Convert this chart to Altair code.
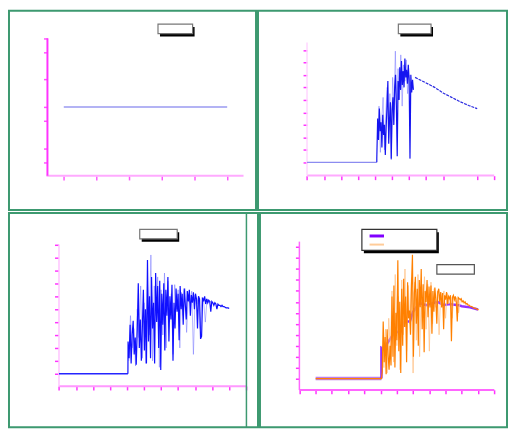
import altair as alt
import pandas as pd

SX = 500 / 516
SY = 417 / 433
GREEN = "#3d9970"

# ---------------- data ----------------
# panel 1: single flat series
p1_x = [0, 5]
p1_y = [5, 5]

# panel 2
p2_flat_x = [0, 4.1]
p2_flat_y = [0, 0]
p2_dark_y = [0.3, 3.5, 1.8, 4.3, 2.5, 3.2, 1.2, 3.8, 2.2, 3.0, 0.6, 2.8, 4.5, 6.5, 1.5,
             3.5, 4.8, 0.3, 4.2, 5.2, 3.0, 6.0, 7.0, 4.5, 0.5, 6.5, 5.0, 7.6, 5.8, 8.1,
             6.2, 7.3, 6.0, 8.3, 6.8, 7.4, 6.3, 7.8, 6.6, 0.3, 7.0, 5.6, 6.6, 5.8]
p2_light_y = [2.0, 4.5, 0.8, 3.3, 5.2, 1.0, 4.0, 6.0, 2.4, 5.5, 0.2, 6.8, 4.2, 8.9, 3.8,
              7.5, 5.0, 8.6, 4.5, 7.8, 6.5, 8.2, 5.5, 7.0, 6.2, 6.0]
p2_decay_x = [6.35, 7.0, 7.5, 8.0, 8.5, 9.0, 9.5, 10.0]
p2_decay_y = [6.8, 6.35, 6.0, 5.55, 5.2, 4.85, 4.55, 4.3]

# panel 3
p3_flat_x = [0, 4.05]
p3_flat_y = [0, 0]
p3_dark_y = [2.5, 1.2, 3.8, 0.8, 3.0, 4.1, 1.5, 2.8, 0.7, 3.4,
             7.0, 2.0, 4.2, 1.0, 3.6, 6.5, 1.8, 5.0, 0.8, 8.8,
             2.5, 6.0, 1.2, 7.5, 3.5, 5.5, 0.8, 7.8, 4.0, 6.8,
             2.0, 7.2, 0.3, 6.2, 3.8, 7.0, 1.8, 6.5, 4.5, 7.5,
             2.5, 6.0, 4.2, 6.9, 1.0, 5.5, 3.5, 6.6, 4.8, 6.2,
             2.6, 6.8, 5.0, 6.2, 3.8, 6.6, 5.4, 4.2, 6.4, 5.6,
             6.5, 4.5, 6.1, 5.5, 6.3, 5.0, 6.2, 5.8, 3.5, 6.0,
             5.8, 2.7, 2.9, 5.9, 5.6, 6.0, 5.4, 5.8, 5.5, 5.7,
             5.6, 4.8, 5.6, 5.5, 5.3, 5.5, 5.4, 5.0, 5.4, 5.3,
             5.3, 5.2, 5.3, 5.2, 5.2, 5.15, 5.1, 5.1, 5.1, 5.05]
p3_light_y = [1.0, 4.5, 2.0, 3.5, 0.6, 5.0, 2.8, 6.8, 1.2, 5.5,
              0.8, 7.0, 3.0, 9.2, 1.0, 6.8, 4.5, 7.5, 0.5, 6.5,
              3.0, 7.8, 2.0, 7.2, 4.0, 6.2, 1.5, 6.9, 5.0, 6.5,
              2.0, 6.3, 4.5, 6.6, 3.2, 6.0, 5.5, 6.4, 1.5, 6.1,
              5.4, 6.0, 3.5, 5.9, 5.6, 4.0, 5.8, 5.5, 5.6, 5.4]

# panel 4
p4_purple_x = [1, 5.05, 5.05, 5.3, 5.4, 5.9, 6.2, 6.5, 6.8, 7.0, 7.4, 7.8, 8.5, 8.9, 9.2, 9.8, 10.0, 10.5, 11.0]
p4_purple_y = [0, 0, 2.8, 2.6, 3.2, 4.3, 4.2, 5.2, 5.2, 6.1, 6.9, 6.7, 7.0, 6.7, 6.8, 6.7, 6.6, 6.5, 6.3]
p4_orange_y = [0.6, 5.2, 1.5, 3.8, 0.4, 4.5, 2.2, 0.8, 3.0, 1.2,
               7.5, 2.0, 8.5, 1.0, 6.0, 3.5, 10.8, 2.5, 7.0, 0.5,
               8.2, 3.0, 9.1, 4.7, 7.5, 1.5, 8.8, 5.5, 6.2, 4.0,
               8.5, 11.3, 2.0, 7.8, 9.3, 5.0, 8.2, 3.0, 9.0, 6.5,
               10.0, 4.5, 8.6, 2.4, 8.0, 7.0, 9.0, 5.6, 8.4, 6.5,
               8.5, 4.1, 8.0, 6.1, 8.3, 7.2, 5.0, 7.9, 8.2, 7.0,
               7.9, 6.5, 7.8, 4.5, 7.6, 7.2, 7.9, 6.8, 7.5, 7.3,
               7.6, 3.4, 7.4, 7.6, 7.2, 7.5, 7.0, 5.2, 7.4, 7.3,
               7.2, 7.3, 7.0, 7.1, 6.9, 7.0, 6.8, 6.85, 6.7, 6.7,
               6.6, 6.6, 6.55, 6.5, 6.45, 6.4, 6.4, 6.35, 6.3, 6.3]
p4_lorange_y = [3.0, 1.0, 4.5, 0.5, 5.5, 2.5, 8.0, 1.5, 9.5, 3.0,
                7.5, 0.8, 9.0, 4.0, 10.0, 2.5, 8.5, 5.0, 9.2, 0.5,
                8.8, 3.5, 9.5, 2.0, 8.0, 6.0, 9.3, 4.5, 8.6, 2.5,
                8.8, 5.0, 8.2, 6.5, 8.0, 4.0, 7.8, 7.2, 8.0, 5.5,
                7.8, 6.8, 7.6, 5.5, 7.5, 7.0, 7.4, 6.0, 7.2, 7.0]


def grid(start, step, n):
    return [round(start + step * i, 4) for i in range(n)]


def df(xs, ys):
    return pd.DataFrame({"x": xs, "y": ys})


def ordered(xs, ys):
    d_ = df(xs, ys)
    d_["order"] = range(len(d_))
    return d_


ONE = pd.DataFrame({"k": [0]})


def panel(box, xmap, ymap, xticks, yticks, xaxis_px, yaxis_px, tick_col,
          axis_lines, series, boxes, extras=()):
    L, T, R, B = box
    a, b = xmap
    c, d = ymap
    W = round((R - L) * SX)
    H = round((B - T) * SY)
    xs = alt.Scale(domain=[(L - a) / b, (R - a) / b], nice=False, zero=False)
    ys = alt.Scale(domain=[(c - B) / d, (c - T) / d], nice=False, zero=False)
    common = dict(labels=False, title=None, domain=False, grid=False, ticks=True,
                  tickColor=tick_col, tickSize=4, tickWidth=1.5)
    xa = alt.Axis(values=xticks, offset=-(H - (xaxis_px - T) * SY), **common)
    ya = alt.Axis(values=yticks, offset=-((yaxis_px - L) * SX), **common)
    X = alt.X("x:Q", scale=xs, axis=xa)
    Y = alt.Y("y:Q", scale=ys, axis=ya)
    layers = []
    (hx0, hx1, hy, hcol, hw), (vx, vy0, vy1, vcol, vw) = axis_lines
    layers.append(alt.Chart(pd.DataFrame({"x": [hx0], "x2": [hx1], "y": [hy]}))
                  .mark_rule(color=hcol, strokeWidth=hw)
                  .encode(x=X, x2="x2:Q", y=Y))
    layers.append(alt.Chart(pd.DataFrame({"x": [vx], "y": [vy0], "y2": [vy1]}))
                  .mark_rule(color=vcol, strokeWidth=vw)
                  .encode(x=X, y=Y, y2="y2:Q"))
    for data, style in series:
        if "order" in data.columns:
            layers.append(alt.Chart(data).mark_line(**style).encode(x=X, y=Y, order="order:Q"))
        else:
            layers.append(alt.Chart(data).mark_line(**style).encode(x=X, y=Y))
    for (x1, y1, x2, y2, shadow, stroke) in boxes:
        lx1, lx2 = (x1 - L) * SX, (x2 - L) * SX
        ly1, ly2 = (y1 - T) * SY, (y2 - T) * SY
        if shadow:
            layers.append(alt.Chart(ONE).mark_rect(fill="black").encode(
                x=alt.value(lx1 + 2), x2=alt.value(lx2 + 2),
                y=alt.value(ly1 + 3), y2=alt.value(ly2 + 3)))
        layers.append(alt.Chart(ONE).mark_rect(fill="white", stroke=stroke, strokeWidth=1.2).encode(
            x=alt.value(lx1), x2=alt.value(lx2), y=alt.value(ly1), y2=alt.value(ly2)))
    for (x1, y1, x2, y2, col, w) in extras:
        layers.append(alt.Chart(ONE).mark_rule(color=col, strokeWidth=w).encode(
            x=alt.value((x1 - L) * SX), x2=alt.value((x2 - L) * SX),
            y=alt.value((y1 - T) * SY), y2=alt.value((y2 - T) * SY)))
    return alt.layer(*layers).properties(width=W, height=H)


# ---------------- panel 1 ----------------
p1 = panel(
    box=(0, 0, 257, 209), xmap=(57, 34), ymap=(173, 14.4),
    xticks=[0, 1, 2, 3, 4, 5], yticks=[1, 2, 4, 5, 7, 9, 10],
    xaxis_px=173, yaxis_px=40, tick_col="#ff55ff",
    axis_lines=((-0.53, 5.5, 0, "#ffaaff", 2), (-0.5, 0, 10, "#ff33ff", 2)),
    series=[(df(p1_x, p1_y), dict(color="#9a9af0", strokeWidth=1.5))],
    boxes=[(155, 14, 191, 24, True, "#777777")],
)

# ---------------- panel 2 ----------------
p2 = panel(
    box=(257, 0, 516, 209), xmap=(308, 17.7), ymap=(159, 13.1),
    xticks=[0, 1, 2, 3, 4, 5, 6, 7, 8, 10, 11], yticks=list(range(0, 10)),
    xaxis_px=172.7, yaxis_px=308, tick_col="#ff33ff",
    axis_lines=((0, 11, -1.05, "#ffaaff", 2), (0, -1.05, 9.6, "#ffd6ff", 1.5)),
    series=[
        (df(p2_flat_x, p2_flat_y), dict(color="#8c8cf0", strokeWidth=1.5)),
        (ordered(grid(4.15, 0.08, len(p2_light_y)), p2_light_y),
         dict(color="#7a7aff", strokeWidth=1, opacity=0.55)),
        (ordered([4.1] + grid(4.1, 0.05, len(p2_dark_y)), [0] + p2_dark_y),
         dict(color="#1414f0", strokeWidth=1.2)),
        (df(p2_decay_x, p2_decay_y), dict(color="#2a2ae0", strokeWidth=1.2, strokeDash=[3, 1])),
    ],
    boxes=[(403, 14, 437, 24, True, "#777777")],
)

# ---------------- panel 3 ----------------
p3 = panel(
    box=(0, 209, 259, 433), xmap=(52, 17.7), ymap=(377, 13.5),
    xticks=list(range(0, 12)), yticks=list(range(0, 11)),
    xaxis_px=390, yaxis_px=51.5, tick_col="#ff33ff",
    axis_lines=((0, 11, -0.96, "#ff99ff", 2), (0, -0.96, 10, "#ffc4ff", 1.5)),
    series=[
        (df(p3_flat_x, p3_flat_y), dict(color="#2525ff", strokeWidth=1.5)),
        (ordered(grid(4.1, 0.1, len(p3_light_y)), p3_light_y),
         dict(color="#7070ff", strokeWidth=1, opacity=0.5)),
        (ordered([4.05] + grid(4.06, 0.06, len(p3_dark_y)), [0] + p3_dark_y),
         dict(color="#1010ff", strokeWidth=1.2)),
    ],
    boxes=[(136, 226, 175, 236, True, "#777777")],
    extras=[(247, 209, 247, 433, GREEN, 1.5)],
)

# ---------------- panel 4 ----------------
p4 = panel(
    box=(259, 209, 516, 433), xmap=(300, 16.9), ymap=(382, 11.45),
    xticks=list(range(0, 13)), yticks=list(range(0, 13)),
    xaxis_px=394, yaxis_px=300, tick_col="#ff33ff",
    axis_lines=((0, 12, -1.05, "#ff66ff", 2), (0, -1.05, 12.5, "#ff66ff", 1.5)),
    series=[
        (ordered(p4_purple_x[:2], p4_purple_y[:2]), dict(color="#b266e8", strokeWidth=3.5, opacity=0.85)),
        (ordered(p4_purple_x[1:], p4_purple_y[1:]), dict(color="#8a1aff", strokeWidth=2.5, opacity=0.9)),
        (ordered(grid(5.1, 0.1, len(p4_lorange_y)), p4_lorange_y),
         dict(color="#ffc48a", strokeWidth=1, opacity=0.8)),
        (ordered([1, 5.05] + grid(5.1, 0.06, len(p4_orange_y)), [0, 0] + p4_orange_y),
         dict(color="#ff8000", strokeWidth=1.2)),
    ],
    boxes=[(365, 226, 443, 248, True, "#333333"), (443, 263, 482, 273, False, "#555555")],
    extras=[(373, 233, 388, 233, "#8000ff", 3), (373, 242, 388, 242, "#ffcc99", 2)],
)

chart = alt.vconcat(
    alt.hconcat(p1, p2, spacing=0),
    alt.hconcat(p3, p4, spacing=0),
    spacing=0,
).properties(padding=0, background="white").configure_view(stroke=GREEN, strokeWidth=2)

chart.save("out.html", embed_options={"renderer": "svg", "actions": False})
